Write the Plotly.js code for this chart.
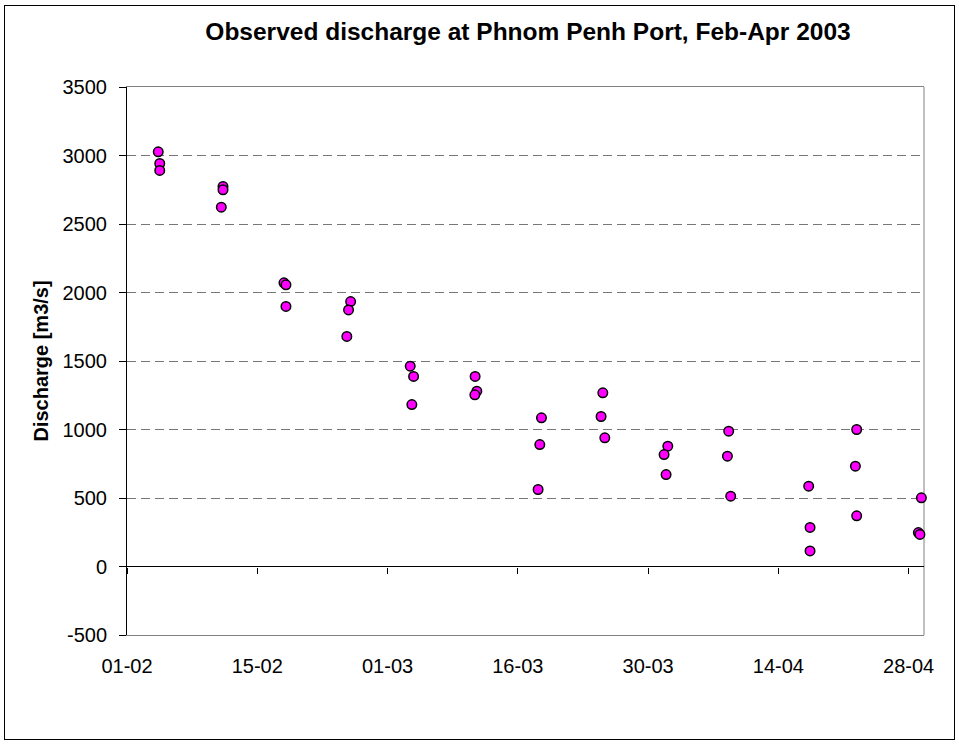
<!DOCTYPE html>
<html>
<head>
<meta charset="utf-8">
<script src="https://cdn.plot.ly/plotly-3.0.1.min.js"></script>
<style>
  html, body { margin: 0; padding: 0; background: #fff; }
  #wrap { position: relative; width: 959px; height: 745px; }
  #chart { width: 959px; height: 745px; }
  #frame { position: absolute; left: 4px; top: 5px; width: 951px; height: 735px;
           border: 1px solid #000; box-sizing: border-box; pointer-events: none; }
</style>
</head>
<body>
<div id="wrap">
  <div id="chart"></div>
  <div id="frame"></div>
</div>
<script>
// Observation times (local) and measured discharge, m3/s
const obsTime = [
  '2003-02-04 10:30', '2003-02-04 14:30', '2003-02-04 14:30',
  '2003-02-11 13:30', '2003-02-11 13:30', '2003-02-11 09:00',
  '2003-02-18 06:30', '2003-02-18 11:45', '2003-02-18 11:45',
  '2003-02-25 14:30', '2003-02-25 09:00', '2003-02-25 04:30',
  '2003-03-04 03:50', '2003-03-04 12:45', '2003-03-04 08:10',
  '2003-03-11 07:10', '2003-03-11 11:45', '2003-03-11 06:30',
  '2003-03-18 14:25', '2003-03-18 10:00', '2003-03-18 05:30',
  '2003-03-25 08:25', '2003-03-25 03:50', '2003-03-25 13:40',
  '2003-04-01 12:00', '2003-04-01 02:10', '2003-04-01 07:25',
  '2003-04-08 04:50', '2003-04-08 01:25', '2003-04-08 10:05',
  '2003-04-17 00:00', '2003-04-17 03:35', '2003-04-17 03:35',
  '2003-04-22 06:45', '2003-04-22 03:20', '2003-04-22 06:45',
  '2003-04-29 09:35', '2003-04-29 01:40', '2003-04-29 05:45'
];
const discharge = [
  3027, 2942, 2891,
  2774, 2750, 2623,
  2071, 2056, 1898,
  1934, 1873, 1679,
  1462, 1387, 1182,
  1387, 1280, 1253,
  1085, 890, 562,
  1268, 1095, 939,
  878, 817, 671,
  988, 805, 513,
  586, 285, 114,
  1000, 732, 370,
  501, 248, 234
];

// Discharge axis ticks and labels
const yTickVals = [-500, 0, 500, 1000, 1500, 2000, 2500, 3000, 3500];
const yTickText = ['-500', '0', '500', '1000', '1500', '2000', '2500', '3000', '3500'];

// Date axis labels (dd-mm), spaced evenly from 1 Feb
const xTickText = ['01-02', '15-02', '01-03', '16-03', '30-03', '14-04', '28-04'];
const xStart = Date.UTC(2003, 1, 1);
const xStepDays = 86 / 6;
const xRange = ['2003-02-01 00:00', '2003-04-29 16:30'];

function isoAt(ms) {
  const d = new Date(ms);
  const p = n => String(n).padStart(2, '0');
  return d.getUTCFullYear() + '-' + p(d.getUTCMonth() + 1) + '-' + p(d.getUTCDate()) +
         ' ' + p(d.getUTCHours()) + ':' + p(d.getUTCMinutes());
}
const xTickVals = xTickText.map((_, i) => isoAt(xStart + i * xStepDays * 86400000));

const FONT = 'Liberation Sans, Arial, sans-serif';

const trace = {
  type: 'scatter',
  mode: 'markers',
  x: obsTime,
  y: discharge,
  cliponaxis: false,
  marker: {
    color: '#FF00FF',
    size: 9.5,
    line: { color: '#000', width: 1.5 }
  },
  hoverinfo: 'x+y'
};

const layout = {
  width: 959,
  height: 745,
  margin: { l: 127, r: 35, t: 87, b: 110 },
  paper_bgcolor: '#fff',
  plot_bgcolor: '#fff',
  showlegend: false,
  font: { family: FONT, color: '#000', size: 20 },
  title: {
    text: 'Observed discharge at Phnom Penh Port, Feb-Apr 2003',
    font: { family: FONT, size: 24.5, color: '#000', weight: 'bold' },
    xref: 'container', x: 528 / 959, xanchor: 'center',
    yref: 'container', y: 1 - 31 / 745, yanchor: 'middle'
  },
  xaxis: {
    type: 'date',
    range: xRange,
    tickmode: 'array',
    tickvals: xTickVals,
    ticktext: xTickText,
    ticks: 'outside',
    ticklen: 13,
    tickcolor: 'rgba(0,0,0,0)',
    tickfont: { family: FONT, size: 20, color: '#000' },
    showgrid: false,
    zeroline: false,
    showline: true,
    linecolor: '#808080',
    linewidth: 1,
    mirror: true,
    layer: 'below traces',
    fixedrange: true
  },
  // tick marks hanging from the zero-discharge line
  xaxis2: {
    type: 'date',
    overlaying: 'x',
    anchor: 'free',
    position: 0.125,
    side: 'bottom',
    range: xRange,
    tickmode: 'array',
    tickvals: xTickVals,
    showticklabels: false,
    ticks: 'outside',
    ticklen: 6,
    tickwidth: 1,
    tickcolor: '#000',
    showgrid: false,
    zeroline: false,
    showline: false,
    fixedrange: true
  },
  yaxis: {
    range: [-500, 3500],
    tickmode: 'array',
    tickvals: yTickVals,
    ticktext: yTickText,
    ticks: 'outside',
    ticklen: 7,
    tickwidth: 1,
    tickcolor: '#000',
    ticklabelstandoff: 8,
    tickfont: { family: FONT, size: 20, color: '#000' },
    showline: true,
    linecolor: '#000',
    linewidth: 1,
    mirror: false,
    showgrid: true,
    gridcolor: '#777',
    gridwidth: 1,
    griddash: '9px,5px',
    zeroline: true,
    zerolinecolor: '#000',
    zerolinewidth: 1,
    title: {
      text: 'Discharge [m3/s]',
      font: { family: FONT, size: 20, color: '#000', weight: 'bold' },
      standoff: 8
    },
    fixedrange: true
  },
  shapes: [{
    type: 'line', xref: 'paper', yref: 'paper',
    x0: 1, x1: 1, y0: 0, y1: 1,
    line: { color: '#808080', width: 1 },
    layer: 'below'
  }]
};

Plotly.newPlot('chart', [trace, { type: 'scatter', x: [], y: [], xaxis: 'x2', hoverinfo: 'skip' }], layout,
  { displayModeBar: false, staticPlot: true });
</script>
</body>
</html>
